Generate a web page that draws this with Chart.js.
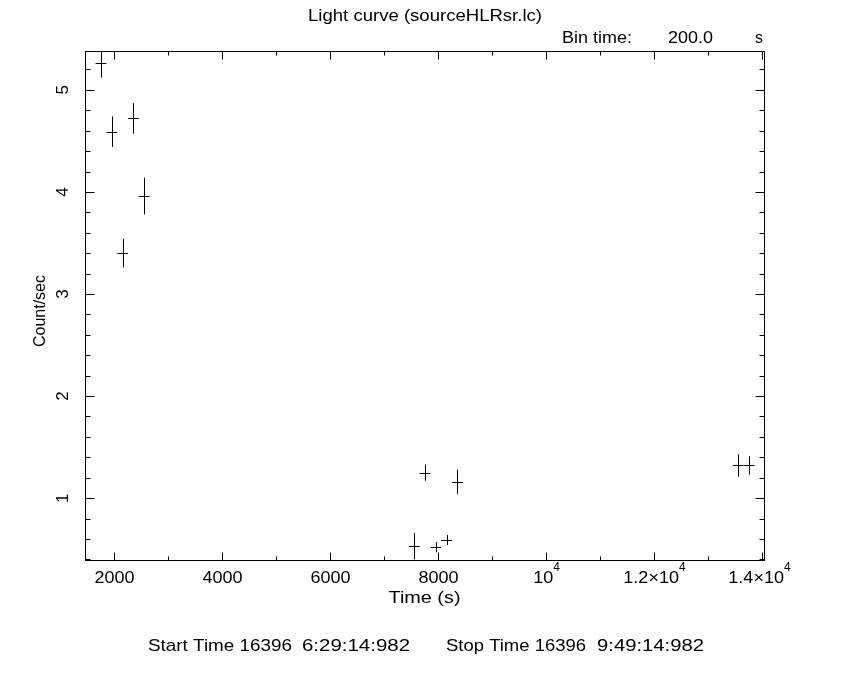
<!DOCTYPE html>
<html lang="en">
<head>
    <meta charset="UTF-8">
    <script src="https://cdn.jsdelivr.net/npm/chart.js@4.4.1/dist/chart.umd.min.js"></script>
    <title>Light curve</title>
    <style>
        body { margin: 0; background: #fff; }
    </style>
</head>
<body>
    <canvas id="chart" width="850" height="680"></canvas>
    <script>
        // light curve bins (200 s each)
        const times = [1750, 1950, 2150, 2350, 2550, 7550, 7750, 7950, 8150, 8350, 13550, 13750];
        const rates = [5.26, 4.59, 3.40, 4.72, 3.96, 0.53, 1.25, 0.52, 0.59, 1.16, 1.32, 1.32];
        const rateErr = [0.14, 0.15, 0.14, 0.15, 0.18, 0.13, 0.08, 0.05, 0.05, 0.12, 0.11, 0.09];
        const halfBin = 100;

        const xMajor = [2000, 4000, 6000, 8000, 10000, 12000, 14000];
        const xMinor = [2000, 3000, 4000, 5000, 6000, 7000, 8000, 9000, 10000, 11000, 12000, 13000, 14000];
        const xLabels = [['2000', ''], ['4000', ''], ['6000', ''], ['8000', ''], ['10', '4'], ['1.2\u00d710', '4'], ['1.4\u00d710', '4']];
        const yMajor = [1, 2, 3, 4, 5];
        const yLabels = ['1', '2', '3', '4', '5'];
        const yMinorStep = 0.2;

        const FONT = '"Liberation Sans", sans-serif';

        // draw text squeezed/stretched to a given width (hershey font is wider)
        function fitText(ctx, text, x, y, width, align) {
            const w = ctx.measureText(text).width;
            const sx = width / w;
            ctx.save();
            ctx.translate(x, y);
            ctx.scale(sx, 1);
            ctx.textAlign = align || 'left';
            ctx.fillText(text, 0, 0);
            ctx.restore();
        }

        const pgplotAxes = {
            id: 'pgplotAxes',
            beforeDraw(chart) {
                const ctx = chart.ctx;
                ctx.save();
                ctx.fillStyle = '#fff';
                ctx.fillRect(0, 0, chart.width, chart.height);
                ctx.restore();
            },
            afterDraw(chart) {
                const ctx = chart.ctx;
                const a = chart.chartArea;
                const xs = chart.scales.x;
                const ys = chart.scales.y;
                const px = v => Math.round(xs.getPixelForValue(v)) + 0.5;
                const py = v => Math.round(ys.getPixelForValue(v)) + 0.5;
                const L = Math.round(a.left) + 0.5, R = Math.round(a.right) + 0.5;
                const T = Math.round(a.top) + 0.5, B = Math.round(a.bottom) + 0.5;

                ctx.save();
                ctx.strokeStyle = '#000';
                ctx.fillStyle = '#000';
                ctx.lineWidth = 1;

                // frame
                ctx.strokeRect(L, T, R - L, B - T);

                // inward ticks
                ctx.beginPath();
                xMinor.forEach(v => {
                    const len = xMajor.includes(v) ? 8 : 4;
                    const x = px(v);
                    ctx.moveTo(x, B); ctx.lineTo(x, B - len);
                    ctx.moveTo(x, T); ctx.lineTo(x, T + len);
                });
                for (let v = 0.4; v < ys.max; v += yMinorStep) {
                    const r = Math.round(v * 10) / 10;
                    const len = Number.isInteger(r) ? 9 : 5;
                    const y = py(r);
                    ctx.moveTo(L, y); ctx.lineTo(L + len, y);
                    ctx.moveTo(R, y); ctx.lineTo(R - len, y);
                }
                ctx.stroke();

                // x tick labels
                ctx.textBaseline = 'alphabetic';
                ctx.textAlign = 'left';
                const stretch = 1.06;
                xMajor.forEach((v, i) => {
                    const [base, sup] = xLabels[i];
                    ctx.font = '17px ' + FONT;
                    const wb = ctx.measureText(base).width * stretch;
                    ctx.font = '12px ' + FONT;
                    const ws = sup ? ctx.measureText(sup).width : 0;
                    let cx = xs.getPixelForValue(v);
                    if (i === xMajor.length - 1) cx -= 3;
                    const x0 = cx - (wb + ws) / 2;
                    ctx.font = '17px ' + FONT;
                    fitText(ctx, base, x0, 583, wb, 'left');
                    if (sup) {
                        ctx.font = '12px ' + FONT;
                        ctx.fillText(sup, x0 + wb, 571);
                    }
                });

                // y tick labels (rotated)
                ctx.font = '17px ' + FONT;
                ctx.textAlign = 'center';
                ctx.textBaseline = 'middle';
                yMajor.forEach((v, i) => {
                    ctx.save();
                    ctx.translate(63, ys.getPixelForValue(v));
                    ctx.rotate(-Math.PI / 2);
                    ctx.fillText(yLabels[i], 0, 0);
                    ctx.restore();
                });

                // axis titles
                ctx.textBaseline = 'alphabetic';
                fitText(ctx, 'Time (s)', 424.5, 603, 72, 'center');
                ctx.save();
                ctx.translate(45, 311);
                ctx.rotate(-Math.PI / 2);
                fitText(ctx, 'Count/sec', 0, 0, 72, 'center');
                ctx.restore();

                // header and footer
                fitText(ctx, 'Light curve (sourceHLRsr.lc)', 425, 21, 234, 'center');
                fitText(ctx, 'Bin time:', 562, 43, 70);
                fitText(ctx, '200.0', 668, 43, 45);
                fitText(ctx, 's', 755, 43, 8);
                fitText(ctx, 'Start Time 16396', 148, 651, 144);
                fitText(ctx, '6:29:14:982', 302, 651, 108);
                fitText(ctx, 'Stop Time 16396', 446, 651, 140);
                fitText(ctx, '9:49:14:982', 597, 651, 107);

                // error bars
                ctx.beginPath();
                ctx.rect(a.left, a.top, a.right - a.left, a.bottom - a.top);
                ctx.clip();
                ctx.beginPath();
                times.forEach((t, i) => {
                    const x = px(t);
                    const y = py(rates[i]);
                    ctx.moveTo(x, ys.getPixelForValue(rates[i] + rateErr[i]));
                    ctx.lineTo(x, ys.getPixelForValue(rates[i] - rateErr[i]));
                    ctx.moveTo(xs.getPixelForValue(t - halfBin), y);
                    ctx.lineTo(xs.getPixelForValue(t + halfBin), y);
                });
                ctx.stroke();
                ctx.restore();
            }
        };

        new Chart(document.getElementById('chart'), {
            type: 'scatter',
            data: {
                datasets: [{
                    data: times.map((t, i) => ({ x: t, y: rates[i] })),
                    pointRadius: 0,
                    showLine: false
                }]
            },
            options: {
                responsive: false,
                animation: false,
                layout: { padding: { left: 85, top: 51, right: 86, bottom: 120 } },
                scales: {
                    x: { type: 'linear', min: 1454, max: 14028, display: false },
                    y: { type: 'linear', min: 0.394, max: 5.381, display: false }
                },
                plugins: { legend: { display: false }, tooltip: { enabled: false } }
            },
            plugins: [pgplotAxes]
        });
    </script>
</body>
</html>
